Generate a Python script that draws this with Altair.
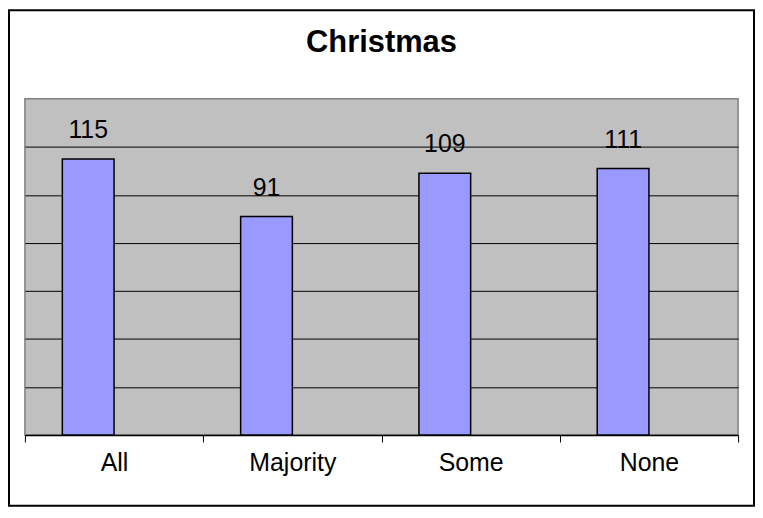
import altair as alt
import pandas as pd

title_text = "Christmas"
categories = ["All", "Majority", "Some", "None"]
values = [115, 91, 109, 111]

df = pd.DataFrame({"category": categories, "value": values})

W, H = 717, 338
PL, PT, PR, PB = 17, 90, 17, 72

x_enc = alt.X(
    "category:N",
    sort=categories,
    scale=alt.Scale(paddingInner=0, paddingOuter=0),
    axis=alt.Axis(
        title=None, labelAngle=0, labelFont="Liberation Sans", labelFontSize=25,
        labelColor="black", tickBand="extent", tickColor="black", tickSize=7,
        domainColor="black", domainWidth=1.5, labelPadding=9, grid=False,
    ),
)
y_enc = alt.Y(
    "value:Q",
    scale=alt.Scale(domain=[0, 140], nice=False),
    axis=alt.Axis(
        title=None, labels=False, ticks=False, domain=False,
        values=[20, 40, 60, 80, 100, 120], grid=True, gridColor="black",
        gridWidth=1, gridOpacity=1,
    ),
)

base = alt.Chart(df)

bars = base.mark_bar(
    width=52, xOffset=-26, color="#9999FF", stroke="black", strokeWidth=1.5
).encode(x=x_enc, y=y_enc)

labels = base.mark_text(
    xOffset=-26, dy=-21, baseline="alphabetic", font="Liberation Sans",
    fontSize=25, color="black",
).encode(x=alt.X("category:N", sort=categories), y="value:Q", text="value:Q")

one = alt.Chart(pd.DataFrame({"t": [title_text]}))

border = one.mark_rect(
    fill="transparent", stroke="black", strokeWidth=2
).encode(
    x=alt.value(-PL + 1), x2=alt.value(W + PR - 1),
    y=alt.value(-PT + 1), y2=alt.value(H + PB - 1),
)

title = one.mark_text(
    font="Liberation Sans", fontSize=31, fontWeight="bold", color="black",
    baseline="alphabetic", align="center",
).encode(x=alt.value(W / 2), y=alt.value(-47), text="t:N")

chart = alt.layer(border, bars, labels, title).properties(
    width=W, height=H,
    padding={"left": PL, "top": PT, "right": PR, "bottom": PB},
    autosize=alt.AutoSizeParams(type="none"),
).configure(
    background="white",
    view=alt.ViewConfig(fill="#C0C0C0", stroke="#808080", strokeWidth=1.5),
)

chart.save("out.html", embed_options={"renderer": "svg", "actions": False})
